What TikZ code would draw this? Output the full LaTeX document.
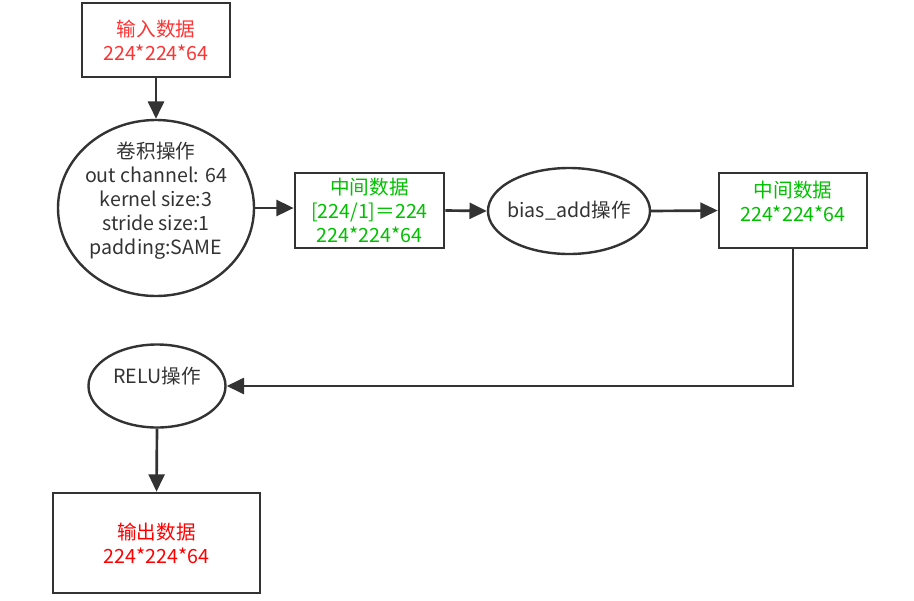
\documentclass[tikz,border=0pt]{standalone}
\usepackage{fontspec}
\setmainfont{Noto Sans CJK SC}
\usetikzlibrary{shapes.geometric,arrows.meta}
\definecolor{linegray}{HTML}{333333}
\definecolor{inred}{HTML}{FF3333}
\definecolor{outred}{HTML}{FF0000}
\definecolor{midgreen}{HTML}{00C000}
\definecolor{txtgray}{HTML}{333333}
\begin{document}
\begin{tikzpicture}[x=0.75pt,y=-0.75pt,
  databox/.style={draw=linegray,line width=2pt,rectangle,inner sep=0pt,align=center},
  opell/.style={draw=linegray,line width=1.8pt,ellipse,inner sep=0pt},
  conn/.style={draw=linegray,line width=2pt,-{Triangle[length=13pt,width=12pt]}},
  lbl/.style={font=\fontsize{14.7}{18}\selectfont,align=center}]
\useasboundingbox (0,0) rectangle (914,600);
\node[databox,minimum width=111pt,minimum height=55.5pt,text=inred,lbl] (b1) at (156,40) {输入数据\\224*224*64};
\node[opell,minimum width=147pt,minimum height=132pt] (e1) at (156,208) {};
\node[lbl,text=txtgray] (e1t) at (156,201) {卷积操作\\out channel: 64\\kernel size:3\\stride size:1\\padding:SAME};
\node[databox,minimum width=111.75pt,minimum height=56.25pt,text=midgreen,lbl] (b2) at (369.5,210.5) {中间数据\\{[224/1]＝224}\\224*224*64};
\node[opell,minimum width=121.5pt,minimum height=64.5pt] (e2) at (569,211) {};
\node[lbl,text=txtgray] (e2t) at (569,211) {bias\_add操作};
\node[databox,minimum width=111pt,minimum height=56.25pt] (b3) at (793,210.5) {};
\node[lbl,text=midgreen] (b3t) at (793,201) {中间数据\\224*224*64};
\node[opell,minimum width=102.75pt,minimum height=62.25pt] (e3) at (157,386) {};
\node[lbl,text=txtgray] (e3t) at (157,376) {RELU操作};
\node[databox,minimum width=155.25pt,minimum height=75pt,text=outred,lbl] (b4) at (156.5,543) {输出数据\\224*224*64};
\draw[conn] (b1.south) -- (e1.north);
\draw[conn] (e1.east) -- (b2.west |- e1.east);
\draw[conn] (b2.east) -- (e2.west);
\draw[conn] (e2.east) -- (b3.west);
\draw[conn] (b3.south) |- (e3.east);
\draw[conn] (e3.south) -- (b4.north);
\end{tikzpicture}
\end{document}
